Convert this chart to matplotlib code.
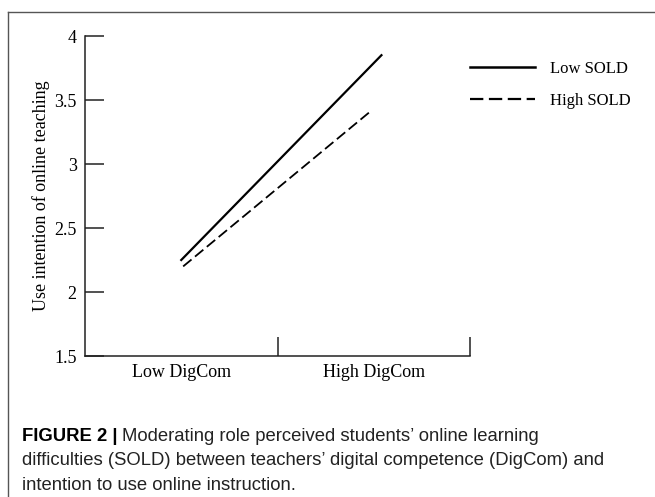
import matplotlib.pyplot as plt
from matplotlib.lines import Line2D

# --- data ---
categories = ["Low DigCom", "High DigCom"]
cat_pos = [0.5, 1.5]
low_sold_x = [0.5, 1.54]
low_sold_y = [2.25, 3.85]
high_sold_x = [0.51, 1.49]
high_sold_y = [2.20, 3.42]
y_ticks = [1.5, 2, 2.5, 3, 3.5, 4]
y_tick_labels = ["1.5", "2", "2.5", "3", "3.5", "4"]

serif = ["Liberation Serif", "DejaVu Serif"]
sans = ["Liberation Sans", "DejaVu Sans"]
FS = 13
DASH = (0, (6, 2.5))

fig = plt.figure(figsize=(6.55, 4.97), dpi=100)
ax = fig.add_axes([85 / 655, 1 - 356 / 497, 385 / 655, 320 / 497])

ax.plot(low_sold_x, low_sold_y, color="black", lw=1.6, label="Low SOLD")
ax.plot(high_sold_x, high_sold_y, color="black", lw=1.3, ls=DASH,
        label="High SOLD")

ax.set_xlim(0, 2)
ax.set_ylim(1.5, 4)
ax.spines["top"].set_visible(False)
ax.spines["right"].set_visible(False)
for s in ("left", "bottom"):
    ax.spines[s].set_linewidth(1.1)
    ax.spines[s].set_color("#222222")

ax.set_yticks(y_ticks)
ax.set_yticklabels(y_tick_labels, fontfamily=serif, fontsize=FS)
ax.tick_params(axis="y", direction="in", length=14, width=1.1, pad=6,
               color="#222222")
# category boundaries carry the ticks, labels sit in the middle
ax.set_xticks([1, 2])
ax.set_xticklabels(["", ""])
ax.tick_params(axis="x", direction="in", length=14, width=1.1, color="#222222")
for x, lab in zip(cat_pos, categories):
    ax.text(x, -0.025, lab, transform=ax.get_xaxis_transform(), ha="center",
            va="top", fontfamily=serif, fontsize=FS)

ax.set_ylabel("Use intention of online teaching", fontfamily=serif,
              fontsize=FS, labelpad=3)

handles = [
    Line2D([], [], color="black", lw=1.8),
    Line2D([], [], color="black", lw=1.6, ls=DASH),
]
fig.legend(handles, ["Low SOLD", "High SOLD"], loc="upper left",
           bbox_to_anchor=(455 / 655, 1 - 46 / 497), frameon=False,
           handlelength=3.9, handletextpad=0.9, labelspacing=0.95,
           prop={"family": serif, "size": 12})

# figure frame (top and left edges)
fig.add_artist(Line2D([8 / 655, 1], [1 - 12 / 497, 1 - 12 / 497],
                      transform=fig.transFigure, color="#555555", lw=1))
fig.add_artist(Line2D([8 / 655, 8 / 655], [0, 1 - 12 / 497],
                      transform=fig.transFigure, color="#555555", lw=1))

# caption, three lines placed on their baselines
cap_fs = 13.3
cap_x = 22 / 655
head = fig.text(cap_x, 1 - 441 / 497, "FIGURE 2 |", fontfamily=sans,
                fontweight="bold", fontsize=cap_fs, va="baseline")
ax.annotate("Moderating role perceived students\u2019 online learning",
            xy=(1, 0), xycoords=head, xytext=(4, 0), textcoords="offset pixels",
            va="bottom", fontfamily=sans, fontsize=cap_fs, color="#222222",
            annotation_clip=False)
fig.text(cap_x, 1 - 465 / 497,
         "difficulties (SOLD) between teachers\u2019 digital competence (DigCom) and",
         fontfamily=sans, fontsize=cap_fs, va="baseline", color="#222222")
fig.text(cap_x, 1 - 490 / 497, "intention to use online instruction.",
         fontfamily=sans, fontsize=cap_fs, va="baseline", color="#222222")

fig.savefig("out.png", dpi=100)
